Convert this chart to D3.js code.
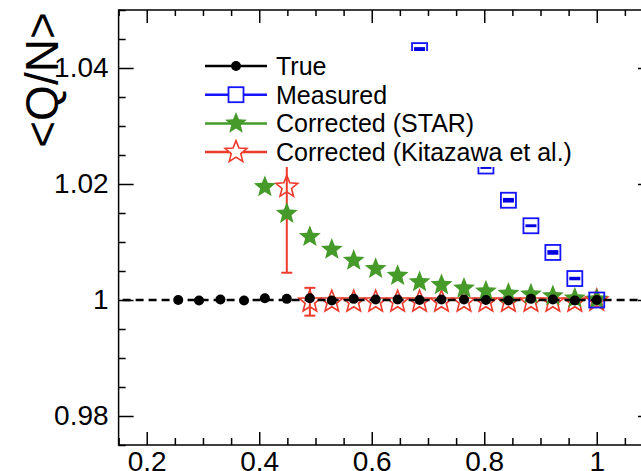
<!DOCTYPE html>
<html>
<head>
<meta charset="utf-8">
<script src="https://cdn.jsdelivr.net/npm/d3@7"></script>
<style>
  body { margin: 0; background: #fff; }
  svg { display: block; font-family: "Liberation Sans", Arial, sans-serif; }
</style>
</head>
<body>
<svg id="chart" width="641" height="471"></svg>
<script>
// efficiency bins (x) shared by all series
const effTrue = [0.256, 0.293, 0.331, 0.373, 0.410, 0.449, 0.490, 0.529, 0.568, 0.607,
                 0.646, 0.685, 0.724, 0.764, 0.803, 0.843, 0.883, 0.922, 0.961, 1.0];
const valTrue = [1.0000, 0.9999, 1.0001, 0.9999, 1.0003, 1.0002, 1.0003, 0.9999, 1.0002, 1.0001,
                 1.0001, 1.0000, 1.0001, 1.0001, 1.0000, 0.9999, 1.0002, 1.0001, 0.9999, 1.0000];

const effMeas = [0.685, 0.724, 0.764, 0.803, 0.843, 0.883, 0.922, 0.961, 1.0];
const valMeas = [1.0430, 1.0360, 1.0290, 1.0231, 1.0172, 1.0128, 1.0082, 1.0037, 1.0000];
const errMeas = [0.0006, 0.0006, 0.0005, 0.0005, 0.0004, 0.00025, 0.0004, 0.0003, 0];

const effStar = [0.373, 0.410, 0.449, 0.490, 0.529, 0.568, 0.607, 0.646, 0.685, 0.724,
                 0.764, 0.803, 0.843, 0.883, 0.922, 0.961, 1.0];
const valStar = [1.0260, 1.0195, 1.0149, 1.0109, 1.0087, 1.0068, 1.0054, 1.0042, 1.0031, 1.0026,
                 1.0020, 1.0015, 1.0011, 1.0010, 1.0007, 1.0003, 1.0001];

const effKita = [0.449, 0.490, 0.529, 0.568, 0.607, 0.646, 0.685, 0.724, 0.764, 0.803,
                 0.843, 0.883, 0.922, 0.961, 1.0];
const valKita = [1.0195, 0.9997, 0.9997, 0.9997, 0.9997, 0.9997, 0.9997, 0.9997, 0.9997, 0.9997,
                 0.9997, 0.9997, 0.9997, 0.9997, 0.9999];
const errKita = [0.0148, 0.0024, 0.0004, 0.0004, 0.0003, 0.0003, 0.0003, 0.0003, 0.0003, 0.0003,
                 0.0002, 0.0002, 0.0002, 0.0002, 0.0001];

const xMajor = [0.2, 0.4, 0.6, 0.8, 1.0];
const yMajor = [0.98, 1.0, 1.02, 1.04];
const legendNames = ["True", "Measured", "Corrected (STAR)", "Corrected (Kitazawa et al.)"];

const blue = "#1414ff", green = "#469a2a", red = "#ee3a2c";

const svg = d3.select("#chart");
const pLeft = 118.6, pRight = 653, pTop = 10, pBottom = 445;

const x = d3.scaleLinear().domain([0.15, 1.1]).range([pLeft, pRight]);
const y = d3.scaleLinear().domain([0.975, 1.05]).range([pBottom, pTop]);

const xMinor = d3.range(0.15, 1.1001, 0.05).filter(v => !xMajor.some(m => Math.abs(m - v) < 1e-6));
const yMinor = d3.range(0.975, 1.0501, 0.005).filter(v => !yMajor.some(m => Math.abs(m - v) < 1e-6));

svg.append("defs").append("clipPath").attr("id", "plot")
  .append("rect").attr("x", pLeft).attr("y", pTop).attr("width", pRight - pLeft).attr("height", pBottom - pTop);

// axes, ticks inward
function axis(gen, tr, vals, size, labels) {
  const g = svg.append("g").attr("transform", tr)
    .call(gen.tickValues(vals).tickSize(-size).tickPadding(labels ? 9 : 0)
      .tickFormat(labels ? d3.format("~g") : ""));
  g.select(".domain").remove();
  g.selectAll("line").attr("stroke", "#000").attr("stroke-width", 1.5);
  g.selectAll("text").attr("font-size", 28).attr("fill", "#000");
  return g;
}
axis(d3.axisBottom(x), `translate(0,${pBottom})`, xMajor, 13, true).selectAll("text").attr("dy", "0.62em");
axis(d3.axisBottom(x), `translate(0,${pBottom})`, xMinor, 7, false);
axis(d3.axisTop(x), `translate(0,${pTop})`, xMajor, 13, false);
axis(d3.axisTop(x), `translate(0,${pTop})`, xMinor, 6, false);
axis(d3.axisLeft(y), `translate(${pLeft},0)`, yMajor, 15, true).selectAll("text").attr("dx", "-1");
axis(d3.axisLeft(y), `translate(${pLeft},0)`, yMinor, 7, false);
axis(d3.axisRight(y), `translate(${pRight},0)`, yMajor, 15, false);
axis(d3.axisRight(y), `translate(${pRight},0)`, yMinor, 7, false);

svg.append("rect").attr("x", pLeft).attr("y", pTop).attr("width", pRight - pLeft).attr("height", pBottom - pTop)
  .attr("fill", "none").attr("stroke", "#000").attr("stroke-width", 1.5);

svg.append("text")
  .attr("transform", "translate(58,80) rotate(-90)")
  .attr("text-anchor", "middle").attr("font-size", 46)
  .text("<Q/N>");

const plot = svg.append("g").attr("clip-path", "url(#plot)");

// plump five-pointed star like ROOT markers 29/30
function starPath(R, r) {
  const pts = d3.range(10).map(k => {
    const a = -Math.PI / 2 + k * Math.PI / 5, rr = k % 2 ? r : R;
    return [rr * Math.cos(a), rr * Math.sin(a)];
  });
  return "M" + pts.join("L") + "Z";
}
const star = starPath(11.5, 5);
const kita = effKita.map((e, i) => ({e, v: valKita[i], err: errKita[i]}));

// red error bars (only where they stick out of the marker)
const bars = plot.append("g").attr("stroke", red).attr("stroke-width", 2)
  .selectAll("g").data(kita.filter(d => y(d.v - d.err) - y(d.v) > 10)).join("g");
bars.append("line")
  .attr("x1", d => x(d.e)).attr("x2", d => x(d.e))
  .attr("y1", d => y(d.v + d.err)).attr("y2", d => y(d.v - d.err));
bars.append("line")
  .attr("x1", d => x(d.e) - 5.5).attr("x2", d => x(d.e) + 5.5)
  .attr("y1", d => y(d.v - d.err)).attr("y2", d => y(d.v - d.err));
bars.append("line")
  .attr("x1", d => x(d.e) - 5.5).attr("x2", d => x(d.e) + 5.5)
  .attr("y1", d => y(d.v + d.err)).attr("y2", d => y(d.v + d.err));

plot.append("g").selectAll("path").data(kita).join("path")
  .attr("d", star).attr("transform", d => `translate(${x(d.e)},${y(d.v)})`)
  .attr("fill", "none").attr("stroke", red).attr("stroke-width", 1.6);

plot.append("g").selectAll("path").data(effStar).join("path")
  .attr("d", star).attr("transform", (d, i) => `translate(${x(d)},${y(valStar[i])})`)
  .attr("fill", green);

const meas = plot.append("g").selectAll("g").data(effMeas).join("g")
  .attr("transform", (d, i) => `translate(${x(d)},${y(valMeas[i])})`);
meas.append("rect").attr("x", -7.5).attr("y", -7.5).attr("width", 15).attr("height", 15)
  .attr("fill", "none").attr("stroke", blue).attr("stroke-width", 1.8);
meas.filter((d, i) => errMeas[i] > 0).append("rect")
  .attr("x", -5.5).attr("width", 11)
  .attr("y", (d, i) => y(valMeas[i] + errMeas[i]) - y(valMeas[i]))
  .attr("height", (d, i) => y(valMeas[i] - errMeas[i]) - y(valMeas[i] + errMeas[i]))
  .attr("fill", "#0000e0");

plot.append("line")
  .attr("x1", pLeft).attr("x2", pRight).attr("y1", y(1)).attr("y2", y(1))
  .attr("stroke", "#000").attr("stroke-width", 2.5).attr("stroke-dasharray", "8,5")
  .attr("stroke-dashoffset", -4);

plot.append("g").selectAll("circle").data(effTrue).join("circle")
  .attr("cx", d => x(d)).attr("cy", (d, i) => y(valTrue[i])).attr("r", 5).attr("fill", "#000");

// legend
const leg = svg.append("g");
leg.append("rect").attr("x", 195).attr("y", 51).attr("width", 395).attr("height", 116).attr("fill", "#fff");
const colors = ["#000", blue, green, red];
const items = leg.selectAll("g.item").data(legendNames).join("g").attr("class", "item")
  .attr("transform", (d, i) => `translate(0,${66 + i * 28.7})`);
items.append("line").attr("x1", 205).attr("x2", 267)
  .attr("stroke", (d, i) => colors[i]).attr("stroke-width", 2.5);
items.append("text").attr("x", 276).attr("dy", "0.36em").attr("font-size", 25).text(d => d);
items.filter((d, i) => i === 0).append("circle").attr("cx", 236).attr("r", 5).attr("fill", "#000");
items.filter((d, i) => i === 1).append("rect").attr("x", 228.5).attr("y", -7.5).attr("width", 15).attr("height", 15)
  .attr("fill", "#fff").attr("stroke", blue).attr("stroke-width", 1.8);
items.filter((d, i) => i === 2).append("path").attr("d", star).attr("transform", "translate(236,0)").attr("fill", green);
items.filter((d, i) => i === 3).append("path").attr("d", star).attr("transform", "translate(236,0)")
  .attr("fill", "#fff").attr("stroke", red).attr("stroke-width", 1.6);
</script>
</body>
</html>
